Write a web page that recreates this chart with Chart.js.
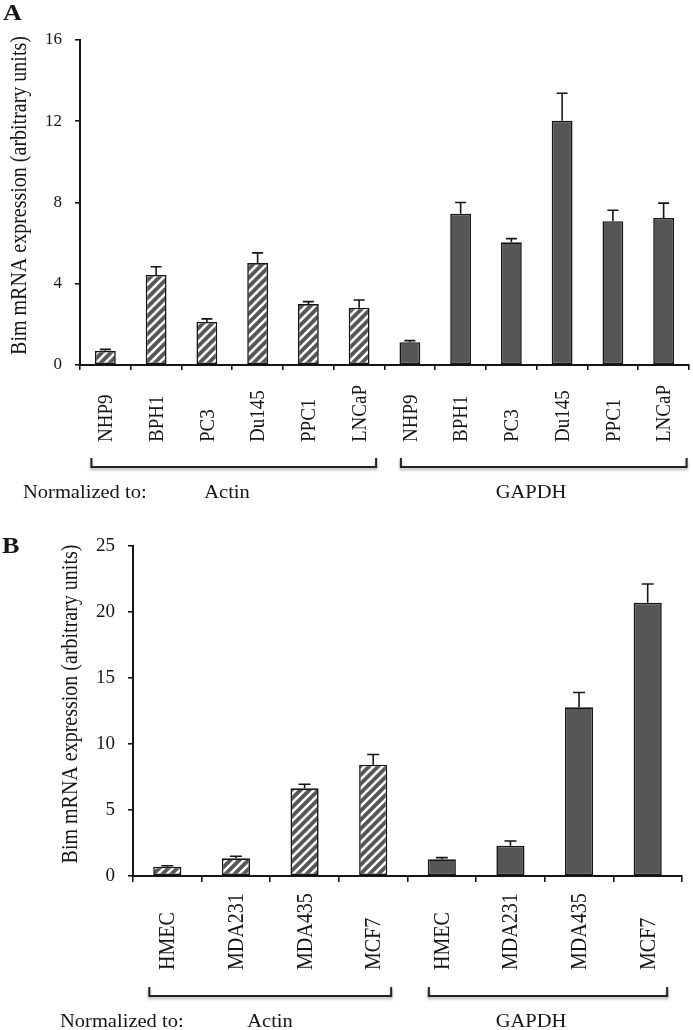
<!DOCTYPE html>
<html>
<head>
<meta charset="utf-8">
<script src="https://cdn.jsdelivr.net/npm/chart.js@4.4.0/dist/chart.umd.min.js"></script>
<style>
body { margin: 0; background: #fff; }
#wrap { position: relative; width: 693px; height: 1030px; }
canvas { position: absolute; left: 0; }
</style>
</head>
<body>
<div id="wrap">
  <canvas id="chartA" width="693" height="510" style="top:0px"></canvas>
  <canvas id="chartB" width="693" height="520" style="top:510px"></canvas>
</div>
<script>
// Panel A - prostate cell lines
const labelsA = ["NHP9", "BPH1", "PC3", "Du145", "PPC1", "LNCaP"];
const actinA = [0.70, 4.43, 2.12, 5.02, 3.00, 2.82];
const actinErrA = [0.07, 0.41, 0.15, 0.50, 0.12, 0.38];
const gapdhA = [1.12, 7.45, 6.04, 12.02, 7.08, 7.24];
const gapdhErrA = [0.08, 0.55, 0.18, 1.36, 0.54, 0.73];
const ticksA = [0, 4, 8, 12, 16];

// Panel B - breast cell lines
const labelsB = ["HMEC", "MDA231", "MDA435", "MCF7"];
const actinB = [0.70, 1.34, 6.64, 8.43];
const actinErrB = [0.08, 0.16, 0.31, 0.77];
const gapdhB = [1.26, 2.30, 12.78, 20.70];
const gapdhErrB = [0.13, 0.35, 1.12, 1.42];
const ticksB = [0, 5, 10, 15, 20, 25];

const groupNames = ["Actin", "GAPDH"];
const yTitle = "Bim mRNA expression (arbitrary units)";
const normText = "Normalized to:";

const FONT = "'Liberation Serif', 'Times New Roman', serif";
const INK = '#151515';
const BAR = '#565656';
const STRETCH = 1.14; // the figure is a little wider than tall

// white diagonal stripes on dark gray
const makeStripes = () => {
  const c = document.createElement('canvas');
  c.width = 9; c.height = 9;
  const g = c.getContext('2d');
  g.fillStyle = BAR;
  g.fillRect(0, 0, 9, 9);
  g.strokeStyle = '#fff';
  g.lineWidth = 2.6;
  g.beginPath();
  g.moveTo(-2, 11); g.lineTo(11, -2);
  g.moveTo(-6.5, 6.5); g.lineTo(6.5, -6.5);
  g.moveTo(2.5, 15.5); g.lineTo(15.5, 2.5);
  g.stroke();
  return g.createPattern(c, 'repeat');
};
const stripes = makeStripes();

// rotated text reading bottom to top, glyphs widened across
const upText = (ctx, text, x, y, align) => {
  ctx.save();
  ctx.translate(x, y);
  ctx.rotate(-Math.PI / 2);
  ctx.scale(1, STRETCH);
  ctx.textAlign = align;
  ctx.textBaseline = 'middle';
  ctx.fillText(text, 0, 0);
  ctx.restore();
};

const wideText = (ctx, text, x, y, align) => {
  ctx.save();
  ctx.translate(x, y);
  ctx.scale(STRETCH, 1);
  ctx.textAlign = align;
  ctx.textBaseline = 'alphabetic';
  ctx.fillText(text, 0, 0);
  ctx.restore();
};

// error bars, rotated category labels, brackets and captions
const makeDecor = (cfg) => ({
  id: 'decor',
  afterDatasetsDraw(chart) {
    const ctx = chart.ctx;
    const y = chart.scales.y;
    const meta = chart.getDatasetMeta(0);
    ctx.save();
    ctx.strokeStyle = INK;
    ctx.lineWidth = 1.6;
    meta.data.forEach((bar, i) => {
      const top = y.getPixelForValue(cfg.values[i] + cfg.errors[i]);
      ctx.beginPath();
      ctx.moveTo(bar.x, bar.y);
      ctx.lineTo(bar.x, top);
      ctx.moveTo(bar.x - cfg.capWidth / 2, top);
      ctx.lineTo(bar.x + cfg.capWidth / 2, top);
      ctx.stroke();
    });
    ctx.restore();
  },
  afterDraw(chart) {
    const ctx = chart.ctx;
    const x = chart.scales.x;
    const area = chart.chartArea;
    ctx.save();
    ctx.fillStyle = INK;

    // y axis title
    ctx.font = '20px ' + FONT;
    upText(ctx, yTitle, cfg.titleX, (area.top + area.bottom) / 2 - 7, 'center');

    // category names, starting on a common line
    ctx.font = cfg.labelFont;
    chart.data.labels.forEach((lab, i) => {
      upText(ctx, lab, x.getPixelForValue(i) + 1, cfg.labelBase, 'left');
    });

    // brackets under each group
    const n = cfg.groupSize;
    ctx.save();
    ctx.strokeStyle = '#222';
    ctx.lineWidth = 2;
    ctx.shadowColor = 'rgba(0,0,0,0.35)';
    ctx.shadowBlur = 3;
    ctx.shadowOffsetY = 2;
    cfg.brackets.forEach((b, g) => {
      const x0 = x.getPixelForValue(g * n) + b[0];
      const x1 = x.getPixelForValue(g * n + n - 1) + b[1];
      ctx.beginPath();
      ctx.moveTo(x0, cfg.bracketY - 9);
      ctx.lineTo(x0, cfg.bracketY);
      ctx.lineTo(x1, cfg.bracketY);
      ctx.lineTo(x1, cfg.bracketY - 9);
      ctx.stroke();
    });
    ctx.restore();

    // captions
    ctx.font = '18px ' + FONT;
    wideText(ctx, normText, cfg.normX, cfg.captionY, 'left');
    groupNames.forEach((name, g) => wideText(ctx, name, cfg.groupTextX[g], cfg.captionY, 'center'));

    // panel letter
    ctx.font = 'bold 23px ' + FONT;
    wideText(ctx, cfg.letter, cfg.letterPos[0], cfg.letterPos[1], 'left');
    ctx.restore();
  }
});

const makePanel = (id, cfg) => {
  const values = cfg.actin.concat(cfg.gapdh);
  const errors = cfg.actinErr.concat(cfg.gapdhErr);
  const labels = cfg.labels.concat(cfg.labels);
  const colors = cfg.actin.map(() => stripes).concat(cfg.gapdh.map(() => BAR));
  const H = document.getElementById(id).height;
  const t = cfg.ticks;

  return new Chart(document.getElementById(id), {
    type: 'bar',
    data: {
      labels: labels,
      datasets: [{
        data: values,
        backgroundColor: colors,
        borderColor: INK,
        borderWidth: 1.6,
        borderSkipped: false,
        barPercentage: 1,
        categoryPercentage: 0.41
      }]
    },
    options: {
      responsive: false,
      animation: false,
      layout: { padding: { left: 0, top: cfg.top, right: cfg.right, bottom: 0 } },
      plugins: { legend: { display: false }, tooltip: { enabled: false } },
      scales: {
        x: {
          ticks: { display: false },
          grid: { display: true, offset: true, drawOnChartArea: false, drawTicks: true,
                  tickLength: cfg.xTick, color: INK, lineWidth: 1.6 },
          border: { display: true, color: INK, width: 2 },
          afterFit: (s) => { s.height = H - cfg.bottom; }
        },
        y: {
          min: t[0],
          max: t[t.length - 1],
          ticks: { stepSize: t[1] - t[0], color: INK, padding: 13,
                   font: { family: FONT, size: cfg.tickSize } },
          grid: { display: true, drawOnChartArea: false, drawTicks: true,
                  tickLength: 5, color: INK, lineWidth: 1.6 },
          border: { display: true, color: INK, width: 2 },
          title: { display: false },
          afterFit: (s) => { s.width = cfg.left; }
        }
      }
    },
    plugins: [makeDecor({
      values: values, errors: errors, capWidth: cfg.capWidth, groupSize: cfg.labels.length,
      labelFont: cfg.labelSize + 'px ' + FONT, labelBase: cfg.labelBase, titleX: cfg.titleX,
      brackets: cfg.brackets, bracketY: cfg.bracketY,
      normX: cfg.normX, groupTextX: cfg.groupTextX, captionY: cfg.captionY,
      letter: cfg.letter, letterPos: cfg.letterPos
    })]
  });
};

makePanel('chartA', {
  labels: labelsA, actin: actinA, actinErr: actinErrA, gapdh: gapdhA, gapdhErr: gapdhErrA,
  ticks: ticksA, tickSize: 17, labelSize: 19,
  left: 80, top: 40, right: 4, bottom: 365, xTick: 5, titleX: 20, capWidth: 11,
  labelBase: 442, brackets: [[-14, 17], [-9, 23]], bracketY: 467,
  normX: 23, groupTextX: [227, 531], captionY: 498,
  letter: 'A', letterPos: [3, 20]
});

makePanel('chartB', {
  labels: labelsB, actin: actinB, actinErr: actinErrB, gapdh: gapdhB, gapdhErr: gapdhErrB,
  ticks: ticksB, tickSize: 19, labelSize: 20,
  left: 133, top: 36, right: 11, bottom: 366, xTick: 6, titleX: 71, capWidth: 12,
  labelBase: 460, brackets: [[-18, 18], [-13, 19.5]], bracketY: 486,
  normX: 60, groupTextX: [270, 531], captionY: 517,
  letter: 'B', letterPos: [2, 43]
});
</script>
</body>
</html>
